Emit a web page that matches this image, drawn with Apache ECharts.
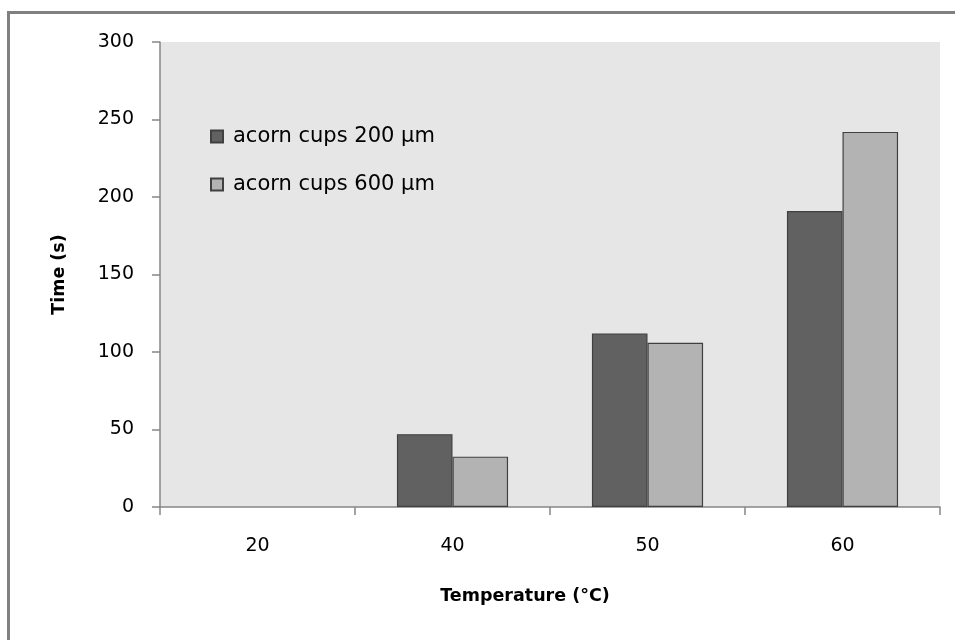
<!DOCTYPE html>
<html>
<head>
<meta charset="utf-8">
<script src="https://cdn.jsdelivr.net/npm/echarts@6/dist/echarts.min.js"></script>
<style>
html,body{margin:0;padding:0;background:#fff;}
#c{width:955px;height:640px;}
</style>
</head>
<body>
<div id="c"></div>
<script>
const categories = ['20', '40', '50', '60'];
const cups200 = [null, 47, 112, 191];
const cups600 = [null, 32.5, 106, 242];
const seriesNames = ['acorn cups 200 \u00b5m', 'acorn cups 600 \u00b5m'];
const yTicks = { min: 0, max: 300, interval: 50 };

const FONT = 'DejaVu Sans';
const chart = echarts.init(document.getElementById('c'), null, { renderer: 'canvas' });
chart.setOption({
  animation: false,
  backgroundColor: '#ffffff',
  textStyle: { fontFamily: FONT },
  graphic: [{
    type: 'rect',
    shape: { x: 8.5, y: 12.5, width: 1200, height: 1200 },
    style: { fill: 'none', stroke: '#808080', lineWidth: 3 },
    silent: true
  }],
  grid: {
    left: 160, top: 42, right: 15, bottom: 133,
    show: true, backgroundColor: '#e6e6e6', borderWidth: 0
  },
  legend: {
    orient: 'vertical',
    left: 205, top: 121,
    itemWidth: 12, itemHeight: 12, itemGap: 27,
    icon: 'rect',
    textStyle: { fontFamily: FONT, fontSize: 21, color: '#000', padding: [0, 0, 0, 5] },
    data: seriesNames
  },
  xAxis: {
    type: 'category',
    data: categories,
    name: 'Temperature (\u00b0C)',
    nameLocation: 'middle',
    nameGap: 80,
    nameTextStyle: { fontFamily: FONT, fontSize: 17.5, fontWeight: 'bold', color: '#000', padding: [0, 50, 0, 0] },
    axisLine: { lineStyle: { color: '#868686', width: 1.5 } },
    axisTick: { show: true, length: 8, lineStyle: { color: '#868686', width: 1.5 } },
    axisLabel: { fontFamily: FONT, fontSize: 19, color: '#000', margin: 30 },
    splitLine: { show: false }
  },
  yAxis: {
    type: 'value',
    min: yTicks.min, max: yTicks.max, interval: yTicks.interval,
    name: 'Time (s)',
    nameLocation: 'middle',
    nameGap: 92,
    nameRotate: 90,
    nameTextStyle: { fontFamily: FONT, fontSize: 17.5, fontWeight: 'bold', color: '#000' },
    axisLine: { show: true, lineStyle: { color: '#868686', width: 1.5 } },
    axisTick: { show: true, length: 8, lineStyle: { color: '#868686', width: 1.5 } },
    axisLabel: { fontFamily: FONT, fontSize: 19, color: '#000', margin: 26 },
    splitLine: { show: false }
  },
  series: [
    {
      name: seriesNames[0], type: 'bar', data: cups200,
      barGap: '0%', barCategoryGap: '43%',
      itemStyle: { color: '#616161', borderColor: '#404040', borderWidth: 1.2 }
    },
    {
      name: seriesNames[1], type: 'bar', data: cups600,
      barGap: '0%', barCategoryGap: '43%',
      itemStyle: { color: '#b3b3b3', borderColor: '#404040', borderWidth: 1.2 }
    }
  ]
});
</script>
</body>
</html>
